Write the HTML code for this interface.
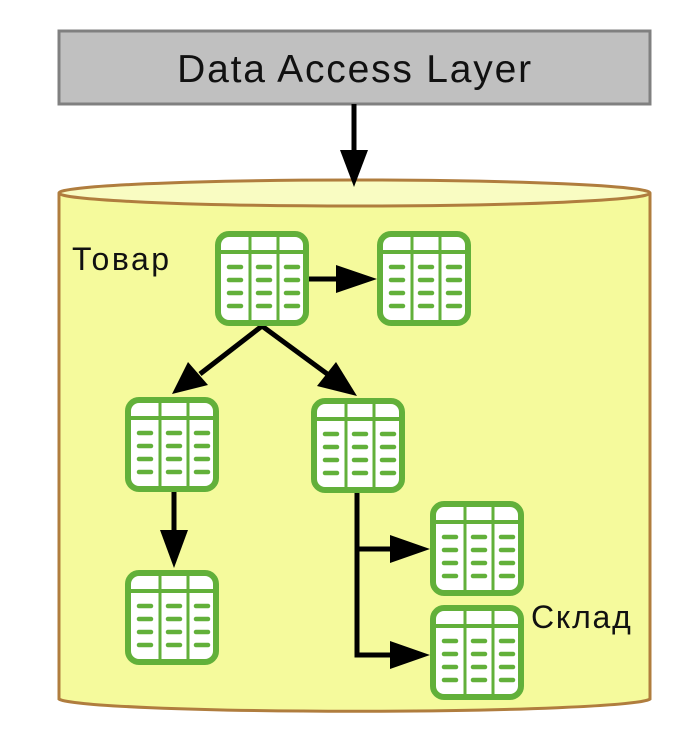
<!DOCTYPE html>
<html><head><meta charset="utf-8"><style>
html,body{margin:0;padding:0;background:#fff;}
svg{display:block;}
</style></head><body>
<svg width="680" height="742" viewBox="0 0 680 742" xmlns="http://www.w3.org/2000/svg">
<defs>
<g id="tbl">
<rect x="3" y="3" width="88" height="89" rx="11" fill="#fff" stroke="#62b03a" stroke-width="6"/>
<line x1="3" y1="21" x2="91" y2="21" stroke="#62b03a" stroke-width="4"/>
<line x1="35" y1="3" x2="35" y2="91" stroke="#62b03a" stroke-width="3"/>
<line x1="63" y1="3" x2="63" y2="91" stroke="#62b03a" stroke-width="3"/>
<g stroke="#62b03a" stroke-width="4.5" stroke-linecap="round">
<line x1="14" y1="36" x2="26" y2="36"/><line x1="43" y1="36" x2="55" y2="36"/><line x1="71" y1="36" x2="83" y2="36"/>
<line x1="14" y1="49" x2="26" y2="49"/><line x1="43" y1="49" x2="55" y2="49"/><line x1="71" y1="49" x2="83" y2="49"/>
<line x1="14" y1="62" x2="26" y2="62"/><line x1="43" y1="62" x2="55" y2="62"/><line x1="71" y1="62" x2="83" y2="62"/>
<line x1="14" y1="75" x2="26" y2="75"/><line x1="43" y1="75" x2="55" y2="75"/><line x1="71" y1="75" x2="83" y2="75"/>
</g>
</g>
</defs>
<rect x="59" y="31" width="591" height="73" fill="#c0c0c0" stroke="#808080" stroke-width="3"/>
<text x="355" y="82" font-family="Liberation Sans, sans-serif" font-size="39" letter-spacing="1.8" text-anchor="middle" fill="#111">Data Access Layer</text>
<path d="M59,193 L59,699 A296,13 0 0 0 650,699 L650,193" fill="#f5fa9c" stroke="#b07d3e" stroke-width="3"/>
<ellipse cx="354.5" cy="193" rx="295.5" ry="13" fill="#f9fcc2" stroke="#b07d3e" stroke-width="3"/>
<line x1="354" y1="104" x2="354" y2="150" stroke="#000" stroke-width="5"/>
<polygon points="340,150 368,150 354,187" fill="#000"/>
<text x="72" y="270" font-family="Liberation Sans, sans-serif" font-size="32" letter-spacing="2.5" fill="#111">Товар</text>
<text x="531" y="628" font-family="Liberation Sans, sans-serif" font-size="32" letter-spacing="1.8" fill="#111">Склад</text>
<line x1="308" y1="279" x2="340" y2="279" stroke="#000" stroke-width="5"/>
<polygon points="336,265 336,293 377,279" fill="#000"/>
<line x1="262" y1="326" x2="200" y2="374" stroke="#000" stroke-width="5"/>
<polygon points="172,394 188,362 208,385" fill="#000"/>
<line x1="262" y1="326" x2="330" y2="376" stroke="#000" stroke-width="5"/>
<polygon points="357,396 317,386 336,362" fill="#000"/>
<line x1="174" y1="492" x2="174" y2="532" stroke="#000" stroke-width="5"/>
<polygon points="160,530 188,530 174,568" fill="#000"/>
<polyline points="357,492 357,655 395,655" fill="none" stroke="#000" stroke-width="5"/>
<line x1="357" y1="549" x2="395" y2="549" stroke="#000" stroke-width="5"/>
<polygon points="390,535 390,563 430,549" fill="#000"/>
<polygon points="390,641 390,669 430,655" fill="#000"/>
<use href="#tbl" x="215" y="231"/>
<use href="#tbl" x="377" y="231"/>
<use href="#tbl" x="125" y="397"/>
<use href="#tbl" x="311" y="398"/>
<use href="#tbl" x="125" y="570"/>
<use href="#tbl" x="430" y="501"/>
<use href="#tbl" x="430" y="605"/>
</svg>
</body></html>
